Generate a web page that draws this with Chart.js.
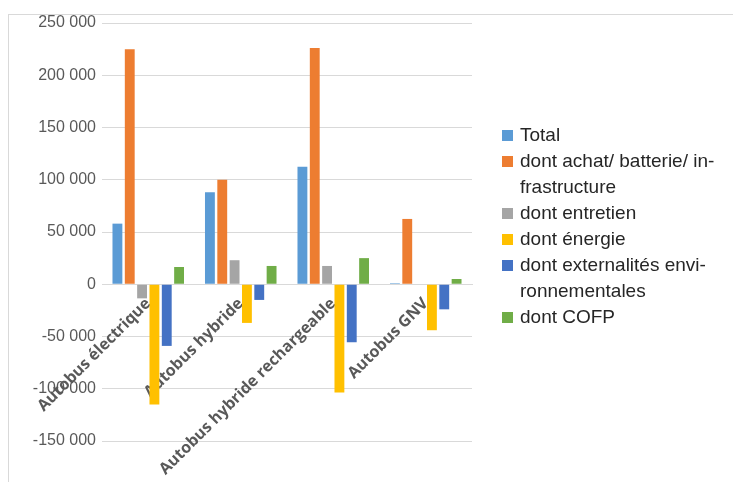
<!DOCTYPE html>
<html>
<head>
<meta charset="utf-8">
<script src="https://cdn.jsdelivr.net/npm/chart.js@4.4.1/dist/chart.umd.min.js"></script>
<style>
  html, body { margin: 0; padding: 0; background: #fff; }
  #wrap { position: relative; width: 733px; height: 482px; overflow: hidden; }
  #frame { position: absolute; left: 8px; top: 14px; width: 800px; height: 600px; border: 1px solid #d9d9d9; }
  canvas { position: absolute; left: 0; top: 0; }
  #legend { position: absolute; left: 502px; top: 122px; font: 19px "Liberation Sans", Arial, sans-serif; color: #262626; }
  .item { position: relative; padding-left: 18px; line-height: 26px; white-space: nowrap; }
  .box { position: absolute; left: 0; top: 8px; width: 11px; height: 11px; }
</style>
</head>
<body>
<div id="wrap">
  <div id="frame"></div>
  <canvas id="chart" width="733" height="482"></canvas>
  <div id="legend"></div>
</div>
<script>
const categories = ['Autobus électrique', 'Autobus hybride', 'Autobus hybride rechargeable', 'Autobus GNV'];

// legend labels, split the way the reference wraps them
const seriesNames = [
  ['Total'],
  ['dont achat/ batterie/ in-', 'frastructure'],
  ['dont entretien'],
  ['dont énergie'],
  ['dont externalités envi-', 'ronnementales'],
  ['dont COFP'],
];
const total = [58000, 88000, 112500, 1000];
const achat = [225000, 100000, 226000, 62500];
const entretien = [-13500, 23000, 17500, 0];
const energie = [-115000, -37000, -103500, -44000];
const externalites = [-59000, -15000, -55500, -24000];
const cofp = [16500, 17500, 25000, 5000];

const colors = ['#5B9BD5', '#ED7D31', '#A5A5A5', '#FFC000', '#4472C4', '#70AD47'];

const yMin = -150000;
const yMax = 250000;
const yStep = 50000;

function fmt(v) {
  const s = Math.abs(v).toString().replace(/\B(?=(\d{3})+(?!\d))/g, ' ');
  return (v < 0 ? '-' : '') + s;
}

const values = [total, achat, entretien, energie, externalites, cofp];

const chart = new Chart(document.getElementById('chart'), {
  type: 'bar',
  data: {
    labels: categories,
    datasets: values.map((v, i) => ({
      label: seriesNames[i].join(''),
      data: v,
      backgroundColor: colors[i],
      categoryPercentage: 0.8,
      barPercentage: 0.8,
    })),
  },
  options: {
    responsive: false,
    animation: false,
    devicePixelRatio: 1,
    layout: {
      padding: { left: 0, top: 23, right: 261, bottom: 41 },
    },
    scales: {
      x: {
        position: { y: 0 },
        border: { display: true, color: '#d9d9d9' },
        grid: { display: false },
        ticks: {
          autoSkip: false,
          minRotation: 45,
          maxRotation: 45,
          padding: 2,
          color: '#595959',
          font: { family: 'Open Sans', weight: 'bold', size: 16 },
        },
        afterFit(scale) {
          scale.paddingLeft = 0;
          scale.paddingRight = 0;
        },
      },
      y: {
        min: yMin,
        max: yMax,
        border: { display: false },
        grid: { color: '#d9d9d9', drawTicks: false },
        ticks: {
          stepSize: yStep,
          padding: 6,
          color: '#595959',
          font: { family: 'Liberation Sans', size: 16 },
          callback: (v) => fmt(v),
        },
        afterFit(scale) {
          scale.width = 102;
        },
      },
    },
    plugins: {
      legend: { display: false },
      tooltip: { enabled: false },
    },
  },
});

// html legend built from the datasets
const legend = document.getElementById('legend');
chart.data.datasets.forEach((ds, i) => {
  const item = document.createElement('div');
  item.className = 'item';
  const box = document.createElement('span');
  box.className = 'box';
  box.style.background = ds.backgroundColor;
  item.appendChild(box);
  seriesNames[i].forEach((line, j) => {
    if (j) item.appendChild(document.createElement('br'));
    item.appendChild(document.createTextNode(line));
  });
  legend.appendChild(item);
});
</script>
</body>
</html>
